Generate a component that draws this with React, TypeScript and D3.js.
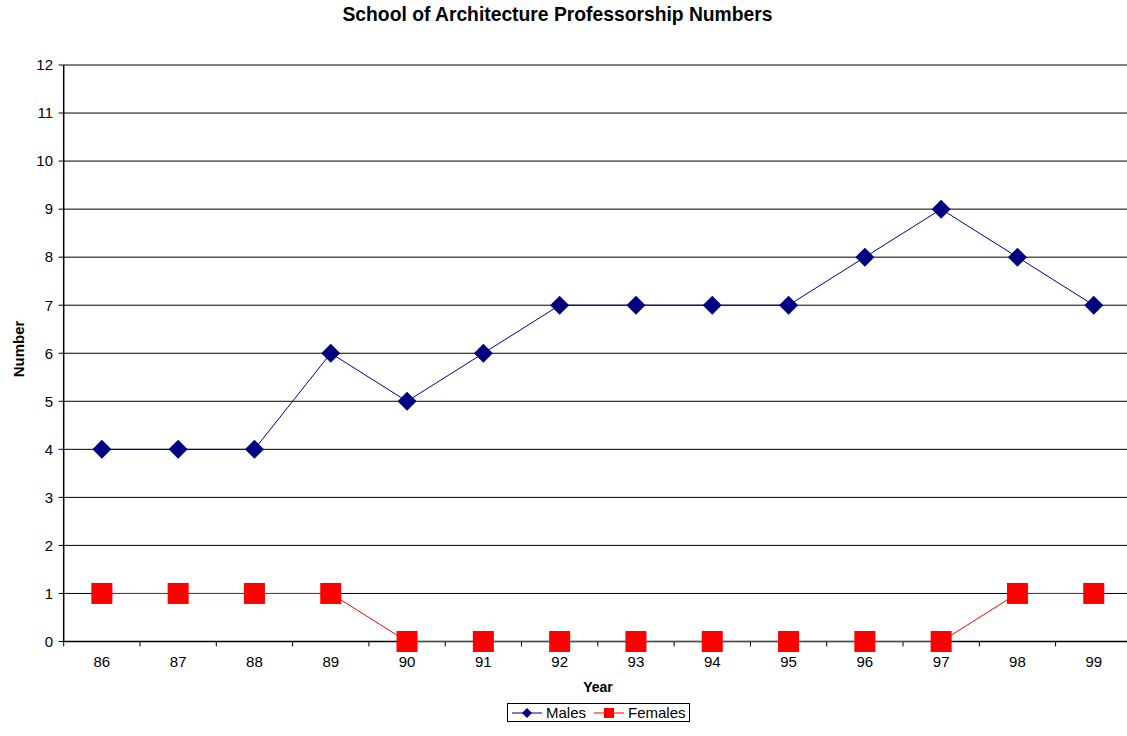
import React from "react";
import * as d3 from "d3";

const years = ["86","87","88","89","90","91","92","93","94","95","96","97","98","99"];
const males = [4,4,4,6,5,6,7,7,7,7,8,9,8,7];
const females = [1,1,1,1,0,0,0,0,0,0,0,0,1,1];
const yTicks = [0,1,2,3,4,5,6,7,8,9,10,11,12];

const W = 1127, H = 736;
const left = 63.7, top = 65, bottom = 641.5;
const band = 76.3;
const right = left + band * years.length;

export default function App() {
  const x = d3.scaleBand<string>().domain(years).range([left, right]);
  const y = d3.scaleLinear().domain([0, 12]).range([bottom, top]);
  const cx = (d: string) => (x(d) as number) + x.bandwidth() / 2;
  const lineM = d3.line<number>().x((_, i) => cx(years[i])).y(d => y(d));
  const font = "Liberation Sans, Arial, sans-serif";
  const diamond = (px: number, py: number, r: number) =>
    `M${px},${py - r}L${px + r},${py}L${px},${py + r}L${px - r},${py}Z`;
  return (
    <svg width={W} height={H} style={{ position: "absolute", left: 0, top: 0, background: "#fff" }} fontFamily={font}>
      <text x={557.5} y={21} textAnchor="middle" fontSize={19.3} fontWeight="bold">School of Architecture Professorship Numbers</text>
      {yTicks.map(t => (
        <g key={t}>
          {t > 0 && <line x1={left} x2={W} y1={y(t)} y2={y(t)} stroke="#000" strokeWidth={1} />}
          <line x1={left - 5} x2={left} y1={y(t)} y2={y(t)} stroke="#000" />
          <text x={53} y={y(t) + 5.3} textAnchor="end" fontSize={15}>{t}</text>
        </g>
      ))}
      <line x1={left} x2={left} y1={top} y2={bottom} stroke="#000" strokeWidth={1.5} />
      <line x1={left} x2={W} y1={bottom} y2={bottom} stroke="#000" strokeWidth={1.5} />
      {years.map((yr, i) => (
        <g key={yr}>
          <line x1={left + band * i} x2={left + band * i} y1={bottom} y2={bottom + 5} stroke="#000" />
          <text x={cx(yr)} y={667} textAnchor="middle" fontSize={15}>{yr}</text>
        </g>
      ))}
      <text x={598} y={691.7} textAnchor="middle" fontSize={14} fontWeight="bold">Year</text>
      <text transform={`translate(23.5,349) rotate(-90)`} textAnchor="middle" fontSize={15} fontWeight="bold">Number</text>
      <path d={lineM(males) || ""} fill="none" stroke="#000080" strokeWidth={1} />
      <path d={lineM(females) || ""} fill="none" stroke="#ff0000" strokeWidth={1} />
      {males.map((v, i) => (
        <path key={"m" + i} d={diamond(cx(years[i]), y(v), 9.5)} fill="#000080" />
      ))}
      {females.map((v, i) => (
        <rect key={"f" + i} x={cx(years[i]) - 10.5} y={y(v) - 10.5} width={21} height={21} fill="#ff0000" />
      ))}
      <rect x={507.5} y={703.5} width={182} height={18} fill="#fff" stroke="#000" />
      <line x1={512} x2={542} y1={713} y2={713} stroke="#000080" />
      <path d={diamond(527, 713, 5)} fill="#000080" />
      <text x={546} y={718} fontSize={15}>Males</text>
      <line x1={594} x2={624} y1={713} y2={713} stroke="#ff0000" />
      <rect x={604} y={708} width={10} height={10} fill="#ff0000" />
      <text x={628} y={718} fontSize={15}>Females</text>
    </svg>
  );
}
